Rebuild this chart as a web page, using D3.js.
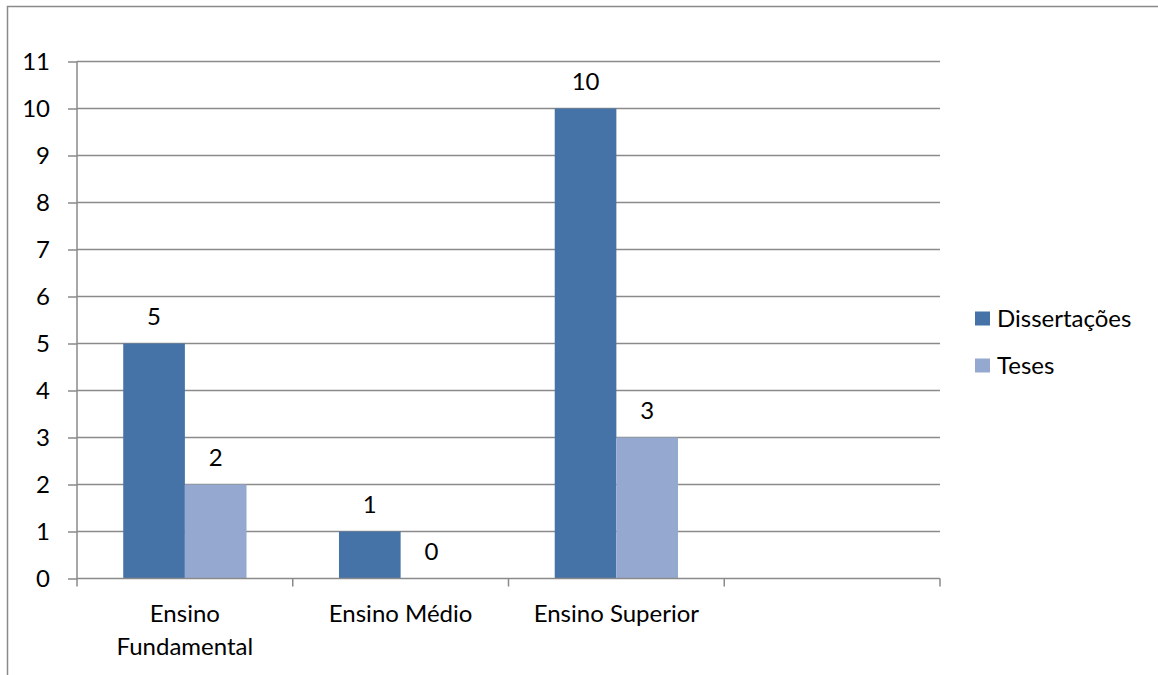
<!DOCTYPE html>
<html><head><meta charset="utf-8">
<script src="https://cdn.jsdelivr.net/npm/d3@7"></script>
<style>body{margin:0;background:#fff}svg{display:block}text{font-family:Lato,"Open Sans",sans-serif;fill:#000}</style>
</head><body><svg id="c" width="1158" height="675"></svg>
<script>
const categories = [["Ensino","Fundamental"],["Ensino Médio"],["Ensino Superior"],[""]];
const seriesNames = ["Dissertações","Teses"];
const dissertacoes = [5,1,10,null];
const teses = [2,0,3,null];
const yTicks = [0,1,2,3,4,5,6,7,8,9,10,11];
const colors = ["#4572A7","#95A9D0"];

const svg = d3.select("#c");
const fs = 24;
const x = d3.scaleBand().domain(d3.range(categories.length)).range([77,940]);
const x1 = d3.scaleBand().domain(seriesNames).range([0,x.bandwidth()]).paddingOuter(0.75).paddingInner(0);
const y = d3.scaleLinear().domain([0,11]).range([578.5,61.5]);

// frame
svg.append("rect").attr("x",7.5).attr("y",6.5).attr("width",1200).attr("height",700)
  .attr("fill","none").attr("stroke","#8a8a8a").attr("stroke-width",1.5);

// gridlines
svg.append("g").selectAll("line").data(yTicks.filter(d=>d>0)).join("line")
  .attr("x1",77).attr("x2",940).attr("y1",d=>y(d)).attr("y2",d=>y(d))
  .attr("stroke","#8a8a8a").attr("stroke-width",1.5);

// bars
const data = [dissertacoes, teses];
data.forEach((vals,si)=>{
  const g = svg.append("g");
  vals.forEach((v,i)=>{
    if(v==null) return;
    const bx = x(i)+x1(seriesNames[si]);
    g.append("rect").attr("x",bx).attr("y",y(v)).attr("width",x1.bandwidth()).attr("height",y(0)-y(v)).attr("fill",colors[si]);
    g.append("text").attr("x",bx+x1.bandwidth()/2).attr("y",y(v)-19).attr("text-anchor","middle")
      .attr("font-size",fs).text(v);
  });
});

// y axis
const ya = svg.append("g").attr("transform","translate(77,0)")
  .call(d3.axisLeft(y).tickValues(yTicks).tickSize(9).tickPadding(18).tickFormat(d3.format("d")));
ya.select(".domain").attr("stroke","#8a8a8a").attr("stroke-width",1.5).attr("d","M0,61.5V578.5");
ya.selectAll(".tick line").attr("stroke","#8a8a8a").attr("stroke-width",1.5);
ya.selectAll(".tick text").attr("font-size",fs).attr("font-family","Lato").attr("fill","#000");

// x axis
const xa = svg.append("g").attr("transform","translate(0,578.5)");
xa.append("line").attr("x1",77).attr("x2",940).attr("stroke","#8a8a8a").attr("stroke-width",1.5);
const bounds = d3.range(categories.length+1).map(i=> i<categories.length ? x(i) : x(i-1)+x.bandwidth());
xa.selectAll("line.t").data(bounds).join("line").attr("class","t")
  .attr("x1",d=>d).attr("x2",d=>d).attr("y1",0).attr("y2",8).attr("stroke","#8a8a8a").attr("stroke-width",1.5);
categories.forEach((lines,i)=>{
  const t = xa.append("text").attr("text-anchor","middle").attr("font-size",fs);
  lines.forEach((l,j)=>t.append("tspan").attr("x",x(i)+x.bandwidth()/2).attr("y",43+j*33).text(l));
});

// legend
const lg = svg.append("g");
seriesNames.forEach((n,i)=>{
  const cy = 318.5 + i*47;
  lg.append("rect").attr("x",975).attr("y",cy-7).attr("width",15).attr("height",14).attr("fill",colors[i]);
  lg.append("text").attr("x",997).attr("y",cy+8.5).attr("font-size",fs).text(n);
});
</script></body></html>
